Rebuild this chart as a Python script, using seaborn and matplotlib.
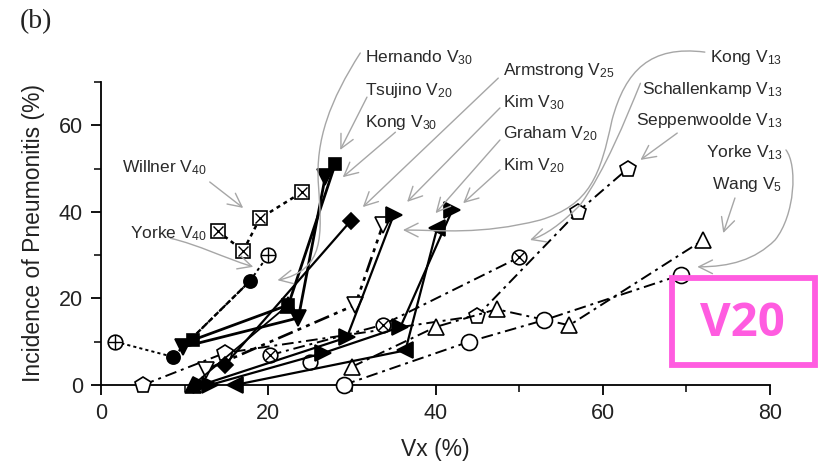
import matplotlib
matplotlib.use("Agg")
import matplotlib.pyplot as plt
import seaborn as sns
from matplotlib.path import Path
from matplotlib.patches import FancyArrowPatch, Rectangle

# ---- study data: Vx (%) vs incidence of pneumonitis (%) ----
willner_v40_x = [14, 17, 19, 24]
willner_v40_y = [35.5, 31, 38.5, 44.5]

yorke_v40_x = [8.6, 17.8]
yorke_v40_y = [6.5, 24.0]

cross_circle_x = [1.7, 8.6, 17.8, 20.0]
cross_circle_y = [10.0, 6.5, 24.0, 30.0]

hernando_v30_x = [11.0, 22.4]
hernando_v30_y = [0.0, 18.5]

tsujino_v20_x = [11.0, 22.4, 28.0]
tsujino_v20_y = [10.4, 18.5, 51.0]

kong_v30_x = [9.8, 23.6, 26.8]
kong_v30_y = [8.8, 15.5, 48.0]

armstrong_v25_x = [14.8, 29.9]
armstrong_v25_y = [4.6, 38.0]

kim_v30_x = [12.0, 29.4, 35.0]
kim_v30_y = [0.0, 11.0, 39.3]

kim_v20_x = [13.0, 26.6, 35.8, 42.0]
kim_v20_y = [0.0, 7.4, 13.4, 40.4]

graham_v20_x = [16.0, 36.4, 40.2]
graham_v20_y = [0.0, 8.0, 36.3]

kong_v13_x = [12.5, 30.4, 33.7]
kong_v13_y = [3.5, 18.5, 37.0]

schallenkamp_v13_x = [20.2, 33.7, 50.0]
schallenkamp_v13_y = [6.9, 13.9, 29.5]

seppenwoolde_v13_x = [5.0, 14.8, 45.0, 57.0, 63.0]
seppenwoolde_v13_y = [0.0, 7.4, 16.0, 40.0, 50.0]

wang_v5_x = [30.0, 40.0, 47.3, 56.0, 72.0]
wang_v5_y = [4.2, 13.4, 17.5, 13.8, 33.5]

yorke_v13_x = [29.0, 44.0, 53.0, 69.3]
yorke_v13_y = [0.0, 10.0, 15.0, 25.4]

single_x = [25.0]
single_y = [5.3]

x_ticks = [0, 20, 40, 60, 80]
y_ticks = [0, 20, 40, 60]

sns.set_theme(style="ticks")
plt.rcParams["font.family"] = ["Liberation Sans", "DejaVu Sans"]
plt.rcParams["mathtext.fontset"] = "custom"
plt.rcParams["mathtext.rm"] = "Liberation Sans"
plt.rcParams["mathtext.default"] = "regular"

fig = plt.figure(figsize=(8.2, 4.69), dpi=100)
ax = fig.add_axes([0.1232, 0.1791, 0.8159, 0.6461])

DOT = (0, (1.6, 1.6))
DASHDOT = (0, (6, 2.5, 1.5, 2.5))
DASHDOTDOT = (0, (6, 2, 1.5, 2, 1.5, 2))


def series(x, y, marker, filled, ls, lw=1.5, ms=10, overlay=None, ov_ms=7,
           markevery=None, z=3):
    kws = dict(
        x=x, y=y, ax=ax, sort=False, estimator=None, color="black",
        marker=marker, markersize=ms, markeredgecolor="black",
        markerfacecolor="black" if filled else "white",
        markeredgewidth=1.2, linewidth=lw, linestyle=ls,
        clip_on=False, zorder=z,
    )
    if markevery is not None:
        kws["markevery"] = markevery
    sns.lineplot(**kws)
    if overlay:
        idx = markevery if markevery is not None else range(len(x))
        ax.plot([x[i] for i in idx], [y[i] for i in idx], linestyle="none",
                marker=overlay, markersize=ov_ms, markeredgecolor="black",
                markeredgewidth=1.0, clip_on=False, zorder=z + 0.1)


# open-marker, broken-line studies
series(willner_v40_x, willner_v40_y, "s", False, DOT, lw=1.8, ms=9.5, overlay="x", ov_ms=6.5)
series(cross_circle_x, cross_circle_y, "o", False, DOT, lw=1.4, ms=10.5, overlay="+",
       ov_ms=9.5, markevery=[0, 3])
series(seppenwoolde_v13_x, seppenwoolde_v13_y, "p", False, DASHDOT, lw=1.4, ms=12)
series(wang_v5_x, wang_v5_y, "^", False, DASHDOT, lw=1.4, ms=12)
series(yorke_v13_x, yorke_v13_y, "o", False, DASHDOT, lw=1.4, ms=11.5)
series(schallenkamp_v13_x, schallenkamp_v13_y, "o", False, DASHDOT, lw=1.4, ms=10.5,
       overlay="x", ov_ms=7)
series(kong_v13_x, kong_v13_y, "v", False, DASHDOTDOT, lw=1.9, ms=12)
series(single_x, single_y, "o", False, "none", ms=10.5)

# filled-marker, solid-line studies
series(yorke_v40_x, yorke_v40_y, "o", True, (0, (2.5, 1)), lw=1.7, ms=9.5)
series(hernando_v30_x, hernando_v30_y, "^", True, "-", lw=1.3, ms=11)
series(tsujino_v20_x, tsujino_v20_y, "s", True, "-", lw=2.0, ms=9)
series(kong_v30_x, kong_v30_y, "v", True, "-", lw=2.0, ms=11)
series(armstrong_v25_x, armstrong_v25_y, "D", True, "-", lw=1.6, ms=8.5)
series(kim_v30_x, kim_v30_y, ">", True, "-", lw=1.6, ms=11)
series(kim_v20_x, kim_v20_y, ">", True, "-", lw=1.6, ms=11)
series(graham_v20_x, graham_v20_y, "<", True, "-", lw=1.6, ms=11)

# axes styling
ax.set_xlim(0, 80)
ax.set_ylim(0, 70)
ax.set_xticks(x_ticks)
ax.set_yticks(y_ticks)
ax.set_xticks([10, 30, 50, 70], minor=True)
ax.set_yticks([10, 30, 50, 70], minor=True)
ax.tick_params(which="major", direction="out", length=7, width=1.3, labelsize=15.5,
               colors="black", labelcolor="#222222", pad=6)
ax.tick_params(which="minor", direction="out", length=5, width=1.3)
for side in ("top", "right"):
    ax.spines[side].set_visible(False)
for side in ("left", "bottom"):
    ax.spines[side].set_linewidth(1.3)
    ax.spines[side].set_color("black")
ax.set_xlabel("Vx (%)", fontsize=16.5, labelpad=10, color="#222222")
ax.set_ylabel("Incidence of Pneumonitis (%)", fontsize=16.5, labelpad=10, color="#222222")

# study labels and pointer arrows
ARROW_C = "#a6a6a6"
TXT_C = "#2a2a2a"


def label(text, x, y, ha="left"):
    ax.text(x, y, text, fontsize=12.5, ha=ha, va="center_baseline", color=TXT_C,
            clip_on=False, zorder=6)


def pointer(points, codes=None):
    if codes is None:
        codes = [Path.MOVETO] + [Path.LINETO] * (len(points) - 1)
    p = Path(points, codes)
    arr = FancyArrowPatch(path=p, arrowstyle="->,head_length=0.7,head_width=0.35",
                          mutation_scale=14, color=ARROW_C, lw=1.0,
                          transform=ax.transData, clip_on=False, zorder=5)
    ax.add_patch(arr)


C4 = Path.CURVE4
MV = Path.MOVETO

label("Hernando V$_{30}$", 31.6, 76.2)
label("Tsujino V$_{20}$", 31.6, 68.6)
label("Kong V$_{30}$", 31.6, 61.2)
label("Armstrong V$_{25}$", 48.1, 73.2)
label("Kim V$_{30}$", 48.1, 65.8)
label("Graham V$_{20}$", 48.1, 58.7)
label("Kim V$_{20}$", 48.1, 51.3)
label("Kong V$_{13}$", 81.5, 76.2, ha="right")
label("Schallenkamp V$_{13}$", 81.5, 68.8, ha="right")
label("Seppenwoolde V$_{13}$", 81.5, 61.7, ha="right")
label("Yorke V$_{13}$", 81.5, 54.3, ha="right")
label("Wang V$_{5}$", 81.5, 46.9, ha="right")
label("Willner V$_{40}$", 2.5, 50.8)
label("Yorke V$_{40}$", 3.5, 35.6)

pointer([(31.0, 76.7), (27.4, 65.8), (25.6, 56.6), (26.0, 46.2),
         (26.4, 34.6), (26.8, 26.6), (21.1, 24.2)], [MV, C4, C4, C4, C4, C4, C4])
pointer([(31.8, 66.5), (28.6, 54.3)])
pointer([(35.2, 58.4), (28.9, 48.0)])
pointer([(47.5, 70.9), (31.3, 41.1)])
pointer([(47.7, 64.0), (36.6, 42.3)])
pointer([(47.7, 56.6), (40.0, 39.7)])
pointer([(47.7, 49.7), (43.3, 42.0)])
pointer([(72.2, 76.9), (65.7, 78.5), (62.7, 72.7), (61.1, 61.2),
         (59.7, 48.5), (58.5, 41.6), (52.5, 38.1),
         (45.3, 34.6), (40.6, 35.8), (36.1, 35.8)],
        [MV, C4, C4, C4, C4, C4, C4, C4, C4, C4])
pointer([(64.5, 69.7), (62.7, 61.2), (60.3, 49.7), (57.3, 41.6),
         (54.9, 37.0), (53.1, 34.6), (51.3, 33.5)], [MV, C4, C4, C4, C4, C4, C4])
pointer([(68.9, 58.2), (64.5, 52.0)])
pointer([(81.9, 54.3), (83.3, 50.8), (83.0, 39.3), (80.6, 33.5),
         (78.2, 28.9), (75.2, 27.3), (71.3, 27.3)], [MV, C4, C4, C4, C4, C4, C4])
pointer([(75.8, 43.2), (74.4, 35.1)])
pointer([(13.0, 46.9), (17.0, 40.9)])
pointer([(8.3, 33.9), (11.8, 32.3), (14.5, 29.5), (18.2, 27.3)], [MV, C4, C4, C4])

# panel letter and highlighted metric box
fig.text(0.024, 0.953, "(b)", fontsize=20, family="Liberation Serif",
         ha="left", va="center", color="#222222")
PINK = "#ff5ce0"
fig.patches.append(Rectangle((0.8195, 0.2217), 0.1744, 0.1855, transform=fig.transFigure,
                             fill=False, edgecolor=PINK, linewidth=4.2, zorder=10))
fig.text(0.905, 0.311, "V20", fontsize=34, fontweight="bold", family="Open Sans",
         color=PINK, ha="center", va="center", zorder=11)

fig.savefig("out.png", dpi=100, facecolor="white")
